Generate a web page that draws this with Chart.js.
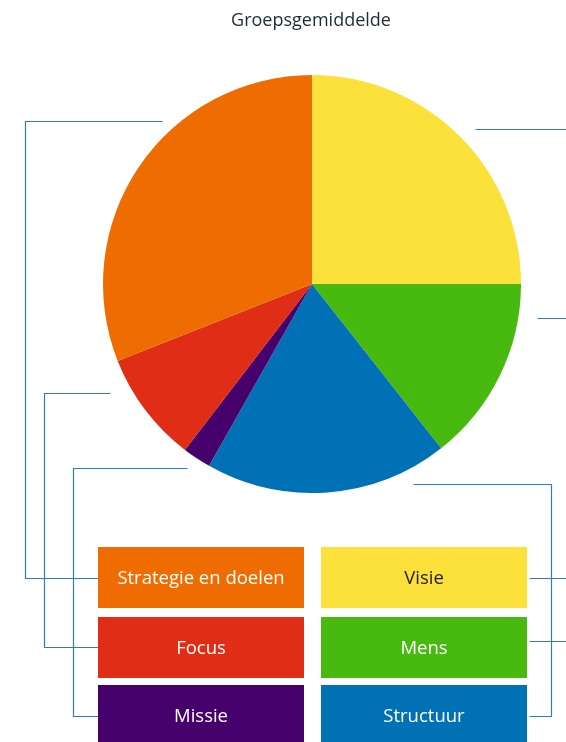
<!DOCTYPE html>
<html lang="nl">
<head>
<meta charset="UTF-8">
<title>Groepsgemiddelde</title>
<script src="https://cdn.jsdelivr.net/npm/chart.js"></script>
<style>
  html, body { margin: 0; padding: 0; background: #fff; overflow: hidden; }
  #wrap { position: relative; width: 566px; height: 742px; }
</style>
</head>
<body>
<div id="wrap"><canvas id="pie" width="566" height="742"></canvas></div>
<script>
// Slices clockwise from 12 o'clock
const labels = ['Visie', 'Mens', 'Structuur', 'Missie', 'Focus', 'Strategie en doelen']
const values = [25.0, 14.4, 18.8, 2.2, 8.6, 31.0]
const colors = ['#fbe13a', '#47b90f', '#0071b4', '#46006b', '#df2e15', '#ef6c00']
const textColors = ['#1d1d1b', '#ffffff', '#ffffff', '#ffffff', '#ffffff', '#ffffff']

// Legend boxes: which slice sits in which column/row
const legendLeft = [5, 4, 3]
const legendRight = [0, 1, 2]

// Connector lines from the pie to the legend boxes (slice index -> polyline)
const connectors = [
  { i: 5, pts: [[162, 121], [25, 121], [25, 578], [98, 578]] },
  { i: 4, pts: [[110, 393], [44, 393], [44, 647], [98, 647]] },
  { i: 3, pts: [[187, 468], [73, 468], [73, 716], [98, 716]] },
  { i: 0, pts: [[475, 129], [570, 129]] },
  { i: 0, pts: [[529, 578], [570, 578]] },
  { i: 1, pts: [[537, 318], [570, 318]] },
  { i: 1, pts: [[529, 641], [570, 641]] },
  { i: 2, pts: [[413, 484], [551, 484], [551, 716], [529, 716]] }
]

const FONT = '"Open Sans", "Noto Sans", sans-serif'

const annotations = {
  id: 'annotations',
  afterDraw(chart) {
    const ctx = chart.ctx
    ctx.save()

    // title
    ctx.fillStyle = '#1c2a3c'
    ctx.font = '18px ' + FONT
    ctx.textAlign = 'center'
    ctx.textBaseline = 'middle'
    ctx.fillText('Groepsgemiddelde', 311, 21)

    // connector lines
    ctx.strokeStyle = '#2f7dbd'
    ctx.lineWidth = 1.2
    connectors.forEach(c => {
      ctx.beginPath()
      c.pts.forEach(([x, y], k) => {
        if (k === 0) ctx.moveTo(x + 0.5, y + 0.5)
        else ctx.lineTo(x + 0.5, y + 0.5)
      })
      ctx.stroke()
    })

    // legend boxes
    const rowsY = [547, 617, 685]
    const drawBox = (idx, x, y) => {
      ctx.fillStyle = colors[idx]
      ctx.fillRect(x, y, 206, 61)
      ctx.fillStyle = textColors[idx]
      ctx.font = '18.5px ' + FONT
      ctx.fillText(labels[idx], x + 103, y + 32)
    }
    legendLeft.forEach((idx, r) => drawBox(idx, 98, rowsY[r]))
    legendRight.forEach((idx, r) => drawBox(idx, 321, rowsY[r]))

    ctx.restore()
  }
}

new Chart(document.getElementById('pie'), {
  type: 'pie',
  data: {
    labels: labels,
    datasets: [{
      data: values,
      backgroundColor: colors,
      borderWidth: 0
    }]
  },
  options: {
    responsive: false,
    animation: false,
    layout: { padding: { left: 103, right: 45, top: 75, bottom: 249 } },
    plugins: {
      legend: { display: false },
      tooltip: { enabled: false }
    }
  },
  plugins: [annotations]
})
</script>
</body>
</html>
